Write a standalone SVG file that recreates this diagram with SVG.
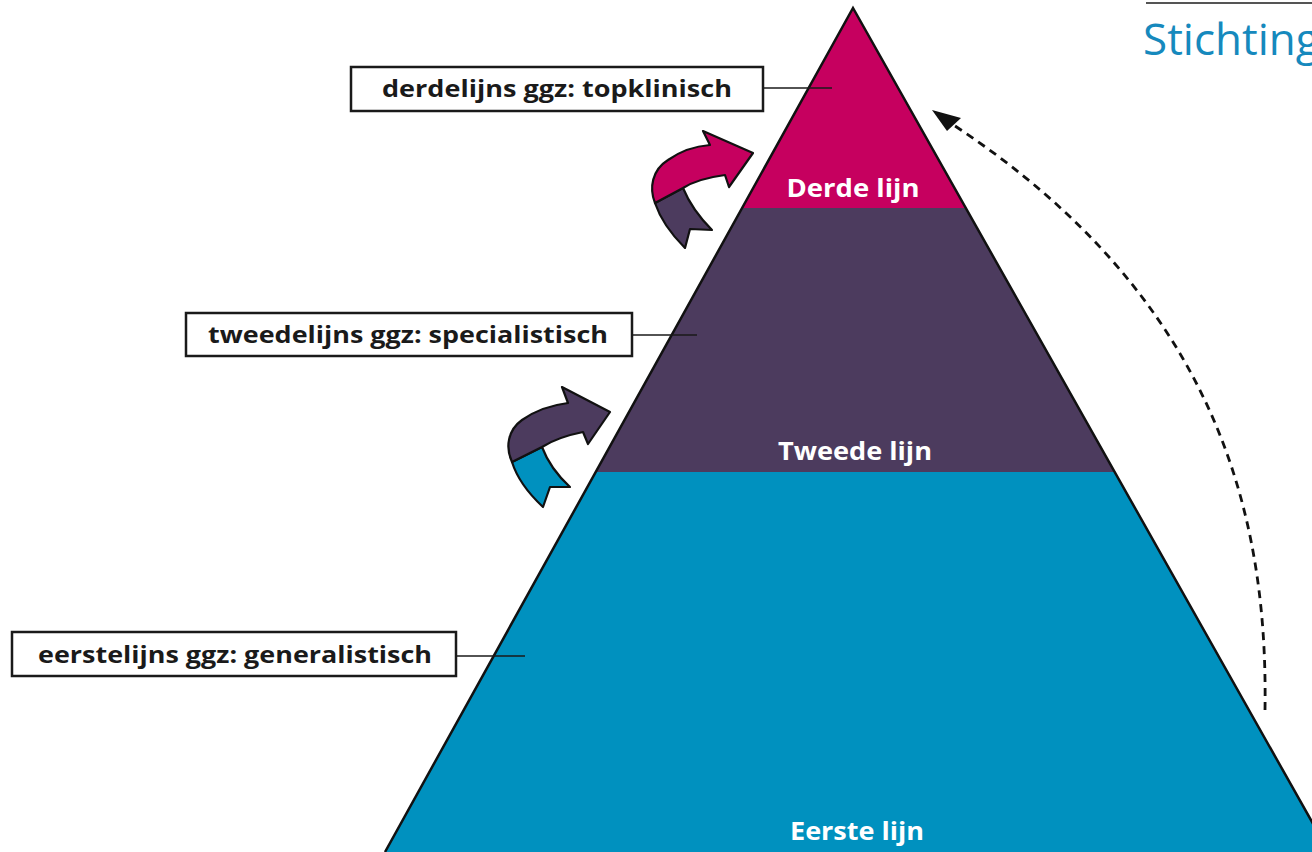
<svg xmlns="http://www.w3.org/2000/svg" width="1312" height="852" viewBox="0 0 1312 852">
<defs>
<style>
.lbl{fill:#fff;stroke:#1a1a1a;stroke-width:2.5}
.lt{font-family:"Open Sans","Liberation Sans",sans-serif;font-weight:700;font-size:23px;fill:#1a1a1a;text-anchor:middle}
.wt{font-family:"Open Sans","Liberation Sans",sans-serif;font-weight:700;font-size:25px;fill:#fff;text-anchor:middle}
.conn{stroke:#1a1a1a;stroke-width:1.6;fill:none}
.arr{stroke:#111;stroke-width:2.2;stroke-linejoin:round}
</style>
</defs>
<rect width="1312" height="852" fill="#fff"/>

<g id="header">
<line x1="1146" y1="3" x2="1312" y2="3" stroke="#555" stroke-width="2"/>
<text x="1143" y="55" font-family="'Open Sans','Liberation Sans',sans-serif" font-size="44" fill="#1689BD">Stichting</text>
</g>

<g id="pyramid">
<polygon id="derde" points="853,8 742,208 966,208" fill="#C6005F"/>
<polygon id="tweede" points="742,208 966,208 1115,472 596,472" fill="#4C3B5E"/>
<polygon id="eerste" points="596,472 1115,472 1329,852 385,852" fill="#0091BF"/>
<path d="M385,852 L853,8 L1329,852" fill="none" stroke="#111" stroke-width="2.5" stroke-linejoin="miter"/>
<text class="wt" x="853" y="197" textLength="133" lengthAdjust="spacingAndGlyphs">Derde lijn</text>
<text class="wt" x="855" y="460" textLength="154" lengthAdjust="spacingAndGlyphs">Tweede lijn</text>
<text class="wt" x="857" y="840" textLength="134" lengthAdjust="spacingAndGlyphs">Eerste lijn</text>
</g>

<g id="connectors">
<line class="conn" x1="763" y1="88" x2="832" y2="88"/>
<line class="conn" x1="632" y1="335" x2="697" y2="335"/>
<line class="conn" x1="456" y1="656" x2="525" y2="656"/>
<path d="M1265,710 C1268,520 1220,300 952,124" fill="none" stroke="#111" stroke-width="2.8" stroke-dasharray="8,6"/>
<path d="M932,110 L961,118 L947,131 z" fill="#111"/>
</g>

<g id="label-derde">
<rect class="lbl" x="351" y="67" width="412" height="44"/>
<text class="lt" x="557" y="97" textLength="350" lengthAdjust="spacingAndGlyphs">derdelijns ggz: topklinisch</text>
</g>
<g id="label-tweede">
<rect class="lbl" x="186" y="313" width="446" height="43"/>
<text class="lt" x="408" y="343" textLength="400" lengthAdjust="spacingAndGlyphs">tweedelijns ggz: specialistisch</text>
</g>
<g id="label-eerste">
<rect class="lbl" x="12" y="632" width="444" height="44"/>
<text class="lt" x="235" y="663" textLength="394" lengthAdjust="spacingAndGlyphs">eerstelijns ggz: generalistisch</text>
</g>

<g id="arrow-up-2">
<path class="arr" fill="#4C3B5E" d="M655,203 L683,188 C690,205 700,218 712,230 L690,229 L685,248 C670,233 660,218 655,203 Z"/>
<path class="arr" fill="#C6005F" d="M655,203 C649,188 652,170 668,160 C682,150 697,146 710,145 L703,131 L753,153 L729,187 L725,175 C710,177 694,181 683,188 Z"/>
</g>
<g id="arrow-up-1">
<path class="arr" fill="#0091BF" d="M512,462 L542,447 C548,463 558,476 570,487 L550,487 L543,507 C528,493 517,478 512,462 Z"/>
<path class="arr" fill="#4C3B5E" d="M512,462 C505,447 508,430 522,420 C536,410 552,405 568,403 L562,387 L610,412 L588,444 L583,432 C568,435 553,440 542,447 Z"/>
</g>
</svg>
